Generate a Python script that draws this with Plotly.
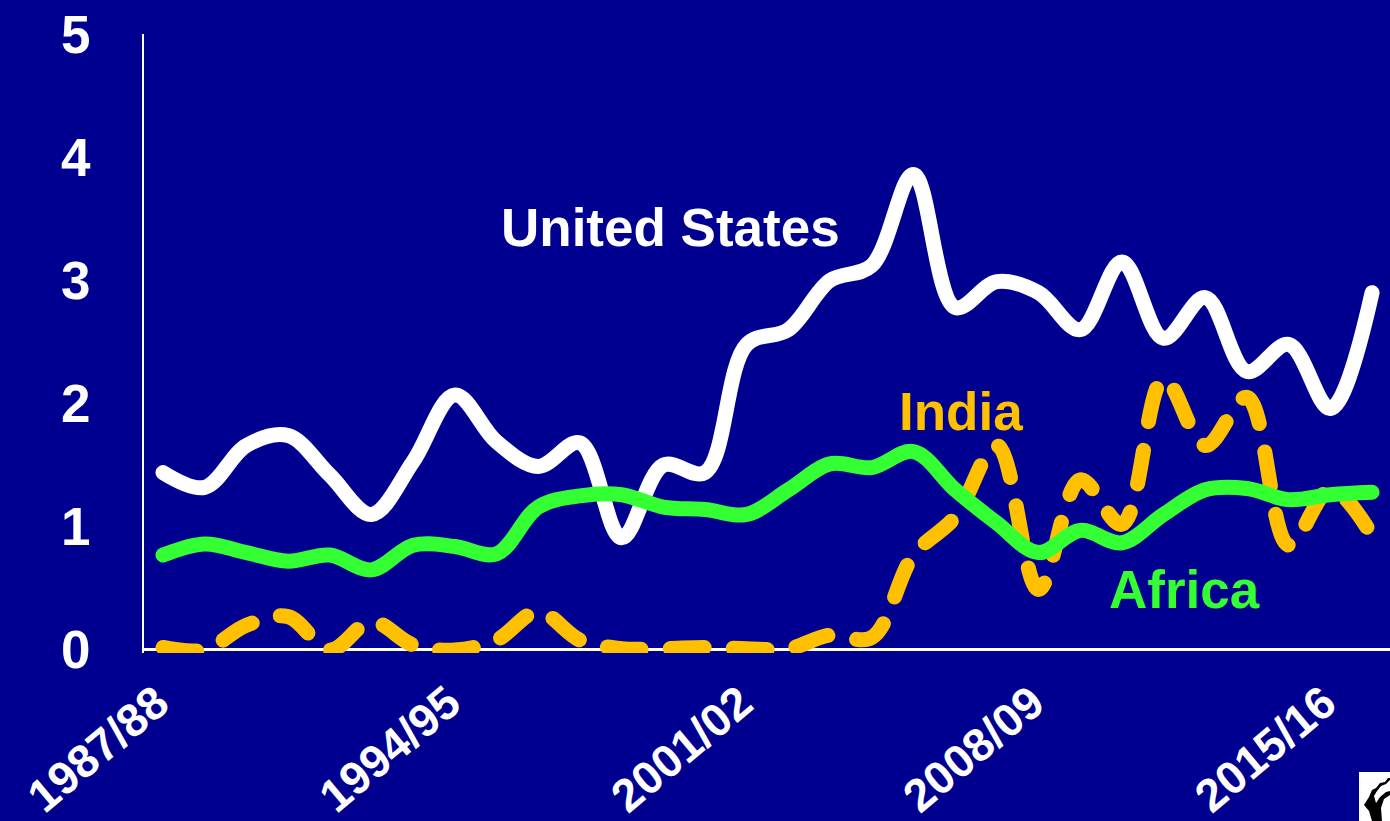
import plotly.graph_objects as go

years = [f"{y}/{str(y + 1)[-2:]}" for y in range(1987, 2017)]
tick_labels = ["1987/88", "1994/95", "2001/02", "2008/09", "2015/16"]
us = [1.44, 1.32, 1.66, 1.74, 1.42, 1.10, 1.53, 2.07, 1.69, 1.49, 1.68, 0.91, 1.50, 1.44, 2.48,
      2.60, 3.00, 3.12, 3.86, 2.78, 2.99, 2.90, 2.60, 3.15, 2.53, 2.86, 2.26, 2.48, 1.96, 2.90]
africa = [0.77, 0.86, 0.79, 0.72, 0.77, 0.65, 0.85, 0.84, 0.78, 1.16, 1.25, 1.26, 1.16, 1.14, 1.10,
          1.30, 1.51, 1.48, 1.61, 1.30, 1.03, 0.79, 0.97, 0.87, 1.10, 1.30, 1.31, 1.22, 1.26, 1.28]
india = [0.02, 0.0, 0.20, 0.27, 0.0, 0.23, 0.04, 0.0, 0.08, 0.31, 0.08, 0.01, 0.01, 0.02, 0.01,
         0.01, 0.12, 0.10, 0.77, 1.08, 1.66, 0.49, 1.38, 1.02, 2.20, 1.66, 2.05, 0.85, 1.30, 0.93]

NAVY = "#000090"
FONT = "Liberation Sans"
L, R, T, B = 144, 1390, 34, 653


def px(x):
    return (x - L) / (R - L)


def py(y):
    return (B - y) / (B - T)


fig = go.Figure()
fig.add_trace(go.Scatter(x=years, y=us, mode="lines", name="United States",
                         line=dict(color="#ffffff", width=15, shape="spline", smoothing=1.0)))
fig.add_trace(go.Scatter(x=years, y=india, mode="lines", name="India",
                         line=dict(color="#ffc000", width=15, shape="spline", smoothing=1.0, dash="34px,29px")))
fig.add_trace(go.Scatter(x=years, y=africa, mode="lines", name="Africa",
                         line=dict(color="#33ff33", width=15, shape="spline", smoothing=1.0)))

labels = [("United States", "#ffffff", 670, 228), ("India", "#ffc000", 961, 411), ("Africa", "#33ff33", 1184, 589)]
annotations = [dict(text=f"<b>{t}</b>", x=px(a), y=py(b), xref="paper", yref="paper",
                    showarrow=False, font=dict(family=FONT, size=53, color=c), xanchor="center", yanchor="middle")
               for t, c, a, b in labels]

icon = [(1364, 805), (1369, 797), (1372, 790), (1376, 788), (1380, 783), (1385, 782), (1388, 778), (1390, 778),
        (1390, 780), (1386, 784), (1381, 786), (1377, 791), (1374, 796), (1376, 803), (1380, 797), (1386, 792),
        (1390, 791), (1390, 795), (1384, 799), (1381, 808), (1382, 821), (1372, 821), (1369, 811)]
icon_path = "M " + " L ".join(f"{px(a):.5f},{py(b):.5f}" for a, b in icon) + " Z"

fig.update_layout(
    width=1390, height=821, margin=dict(l=L, r=1390 - R, t=T, b=821 - B, autoexpand=False),
    paper_bgcolor=NAVY, plot_bgcolor=NAVY, showlegend=False, annotations=annotations,
    font=dict(family=FONT, color="#ffffff"),
    xaxis=dict(type="category", categoryorder="array", categoryarray=years, range=[-0.456, 29.43],
               tickmode="array", tickvals=tick_labels, ticktext=[f"<b>{t}</b>" for t in tick_labels],
               tickangle=-40, tickfont=dict(size=46, color="#ffffff", family=FONT), ticks="", showgrid=False,
               showline=False, zeroline=False, ticklabelstandoff=13, ticklabelshift=-6, automargin=False),
    yaxis=dict(range=[-0.025, 5], tickvals=[0, 1, 2, 3, 4, 5], ticktext=[f"<b>{i}</b>" for i in range(6)],
               tickfont=dict(size=53, color="#ffffff", family=FONT), ticks="", showgrid=False,
               showline=True, linecolor="#ffffff", linewidth=2, zeroline=True, zerolinecolor="#ffffff",
               zerolinewidth=3, ticklabelstandoff=41, automargin=False),
    shapes=[
        dict(type="rect", xref="paper", yref="paper", x0=px(1359), x1=px(1390), y0=py(821), y1=py(772),
             fillcolor="#ffffff", line_width=0, layer="above"),
        dict(type="path", xref="paper", yref="paper", path=icon_path, fillcolor="#000000", line_width=0,
             layer="above"),
    ],
)
post = """
document.body.style.margin='0';document.body.style.overflow='hidden';
document.querySelectorAll('path.js-line').forEach(function(p){p.style.strokeLinecap='round';});
"""
fig.write_html("out.html", post_script=post, config=dict(displayModeBar=False))
